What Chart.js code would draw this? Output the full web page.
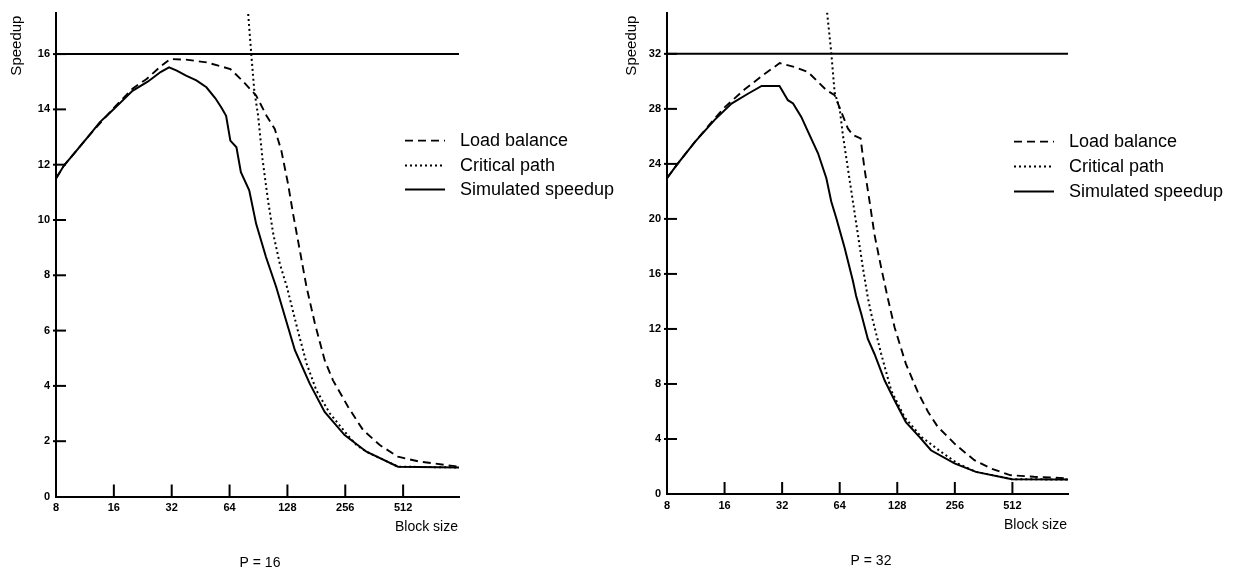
<!DOCTYPE html>
<html lang="en">
<head>
<meta charset="UTF-8">
<title>Speedup vs block size</title>
<script src="https://cdn.jsdelivr.net/npm/chart.js"></script>
<style>
  body { margin: 0; background: #fff; }
  #wrap { position: relative; width: 1234px; height: 575px; }
  .box { position: absolute; top: 0; width: 617px; height: 575px; }
</style>
</head>
<body>
<div id="wrap">
  <div class="box" style="left:0"><canvas id="c16"></canvas></div>
  <div class="box" style="left:617px"><canvas id="c32"></canvas></div>
</div>
<script>
// x axis (block size, log2 scale)
const blockTicks = [8, 16, 32, 64, 128, 256, 512];
const blockMin = 8;
const blockMax = 1000;
const legendNames = ['Load balance', 'Critical path', 'Simulated speedup'];

// P = 16
const p16Ticks = [0, 2, 4, 6, 8, 10, 12, 14, 16];
const p16IdealX = [8, 1000];
const p16Ideal = [16, 16];
const p16LoadX = [8, 8.8, 10, 12, 16, 20, 23.7, 28, 31.4, 38, 48.5, 64.6, 74.6, 88, 99.7, 110, 119, 129, 137, 148.5, 161, 178, 200, 221, 265, 317, 387, 481, 625, 1000];
const p16Load  = [11.5, 11.97, 12.43, 13.09, 14.05, 14.75, 15.1, 15.55, 15.82, 15.8, 15.7, 15.46, 15.04, 14.5, 13.77, 13.29, 12.51, 11.3, 10.22, 8.9, 7.57, 6.25, 4.93, 4.2, 3.24, 2.4, 1.86, 1.44, 1.26, 1.08];
const p16CritX = [80, 83, 86, 90, 95, 101, 108, 117, 127, 145, 161, 181, 213, 259, 293, 330, 481, 1000];
const p16Crit  = [17.45, 16, 14.7, 13.8, 12.2, 10.8, 9.5, 8.4, 7.6, 6.0, 4.81, 3.84, 3.0, 2.28, 1.86, 1.62, 1.08, 1.05];
const p16SimX = [8, 8.8, 10, 12, 13.5, 16, 20, 24, 28, 31, 34, 38, 43, 48.5, 54, 58, 61.4, 64.6, 69.5, 73.3, 81, 88, 99, 112, 128, 140, 167, 200, 254, 330, 481, 1000];
const p16Sim  = [11.5, 11.97, 12.43, 13.09, 13.53, 14.01, 14.67, 15.0, 15.35, 15.52, 15.4, 15.22, 15.05, 14.8, 14.4, 14.07, 13.77, 12.87, 12.63, 11.73, 11.07, 9.86, 8.66, 7.57, 6.2, 5.29, 4.09, 3.06, 2.22, 1.62, 1.08, 1.05];

// P = 32
const p32Ticks = [0, 4, 8, 12, 16, 20, 24, 28, 32];
const p32IdealX = [8, 1000];
const p32Ideal = [32, 32];
const p32LoadX = [8, 9, 11.2, 14.2, 16.1, 20.4, 26, 31.1, 37.2, 43.7, 49.3, 54.5, 60.2, 65.2, 70.6, 75, 82.3, 86.2, 91.7, 97.3, 105.5, 114, 124, 142, 164, 185, 208, 260, 324, 395, 498, 665, 1000];
const p32Load  = [22.96, 23.93, 25.6, 27.3, 28.15, 29.42, 30.56, 31.33, 31.04, 30.68, 29.96, 29.36, 29.0, 27.79, 26.58, 26.1, 25.85, 23.68, 21.27, 18.86, 16.45, 14.28, 12.1, 9.46, 7.4, 6.0, 4.9, 3.55, 2.46, 1.86, 1.37, 1.25, 1.14];
const p32CritX = [55, 57.8, 60.2, 64, 66.5, 70.6, 75, 79.7, 84.6, 89.8, 93.6, 105.5, 119, 139.6, 171, 217, 265, 330, 509, 1000];
const p32Crit  = [35, 32.1, 29.2, 28.0, 26.1, 23.68, 21.27, 18.86, 16.45, 14.28, 13.08, 10.18, 7.53, 5.59, 4.15, 3.06, 2.22, 1.61, 1.08, 1.05];
const p32SimX = [8, 9, 11.2, 14.2, 17.4, 21.2, 25, 31, 34.3, 36.5, 40.3, 43.7, 49.3, 54.5, 57.8, 61.4, 67.9, 75, 78, 83, 89.8, 97.3, 110, 124, 142, 167, 192, 255, 330, 509, 1000];
const p32Sim  = [22.96, 23.93, 25.6, 27.2, 28.39, 29.1, 29.67, 29.67, 28.63, 28.39, 27.42, 26.34, 24.77, 22.96, 21.27, 20.07, 17.9, 15.5, 14.4, 13.08, 11.27, 10.18, 8.25, 6.8, 5.23, 4.15, 3.18, 2.22, 1.61, 1.08, 1.05];

function pts(xs, ys) {
  return xs.map((x, i) => ({ x: x, y: ys[i] }));
}

const lineStyles = [
  { borderDash: [8, 5], borderWidth: 1.9 },
  { borderDash: [2, 3], borderWidth: 2 },
  { borderDash: [], borderWidth: 2 }
];

// tick marks inside the axes, legend and extra labels
const decor = {
  id: 'decor',
  afterDraw(chart, args, o) {
    const ctx = chart.ctx;
    const a = chart.chartArea;
    const xs = chart.scales.x, ys = chart.scales.y;
    ctx.save();
    ctx.strokeStyle = '#000';
    ctx.fillStyle = '#000';
    ctx.lineWidth = 2;
    o.yTicks.forEach(v => {
      if (v === 0) return;
      const py = ys.getPixelForValue(v);
      ctx.beginPath(); ctx.moveTo(a.left - 3, py); ctx.lineTo(a.left + 10, py); ctx.stroke();
    });
    blockTicks.forEach(v => {
      if (v === blockMin) return;
      const px = xs.getPixelForValue(v);
      ctx.beginPath(); ctx.moveTo(px, a.bottom); ctx.lineTo(px, a.bottom - 12); ctx.stroke();
    });

    // legend
    const lx = a.right - 54;
    o.legendY.forEach((dy, i) => {
      const y = a.top + dy;
      const st = lineStyles[i];
      ctx.setLineDash(st.borderDash);
      ctx.lineWidth = st.borderWidth;
      ctx.beginPath(); ctx.moveTo(lx, y); ctx.lineTo(lx + 40, y); ctx.stroke();
      ctx.setLineDash([]);
      ctx.font = '18px "Liberation Sans", Arial, sans-serif';
      ctx.textAlign = 'left';
      ctx.textBaseline = 'middle';
      ctx.fillText(legendNames[i], lx + 55, y);
    });

    // y title at the top of the axis
    ctx.save();
    ctx.translate(a.left - o.titleDx, a.top + 33);
    ctx.rotate(-Math.PI / 2);
    ctx.font = '15px "Liberation Sans", Arial, sans-serif';
    ctx.textAlign = 'center';
    ctx.textBaseline = 'middle';
    ctx.fillText('Speedup', 0, 0);
    ctx.restore();

    ctx.font = '14px "Liberation Sans", Arial, sans-serif';
    ctx.textAlign = 'right';
    ctx.textBaseline = 'middle';
    ctx.fillText('Block size', a.right - 1, a.bottom + 31);
    ctx.textAlign = 'center';
    ctx.fillText(o.caption, a.left + 204, a.bottom + 67);
    ctx.restore();
  }
};

function makeChart(id, p) {
  const datasets = [
    { data: pts(p.idealX, p.ideal), borderDash: [], borderWidth: 2 },
    Object.assign({ data: pts(p.loadX, p.load) }, lineStyles[0]),
    Object.assign({ data: pts(p.critX, p.crit) }, lineStyles[1]),
    Object.assign({ data: pts(p.simX, p.sim) }, lineStyles[2])
  ].map(d => Object.assign(d, { borderColor: '#000', pointRadius: 0, tension: 0, fill: false }));

  return new Chart(document.getElementById(id), {
    type: 'line',
    data: { datasets: datasets },
    plugins: [decor],
    options: {
      responsive: true,
      maintainAspectRatio: false,
      animation: false,
      layout: { padding: { left: 0, right: p.padRight, top: p.padTop, bottom: 0 } },
      plugins: {
        legend: { display: false },
        tooltip: { enabled: false },
        decor: { yTicks: p.ticks, legendY: p.legendY, caption: p.caption, titleDx: p.titleDx }
      },
      scales: {
        x: {
          type: 'logarithmic',
          min: blockMin,
          max: blockMax,
          afterBuildTicks: s => { s.ticks = blockTicks.map(v => ({ value: v })); },
          afterFit: s => { s.height = p.xHeight; },
          grid: { display: true, drawOnChartArea: false, drawTicks: false },
          border: { display: true, width: 2, color: '#000' },
          ticks: {
            autoSkip: false, maxRotation: 0, padding: 5, color: '#000',
            font: { family: '"Liberation Sans", Arial, sans-serif', size: 11, weight: 'bold' },
            callback: v => String(v)
          }
        },
        y: {
          type: 'linear',
          min: 0,
          max: p.yMax,
          afterBuildTicks: s => { s.ticks = p.ticks.map(v => ({ value: v })); },
          afterFit: s => { s.width = p.yWidth; },
          grid: { display: true, drawOnChartArea: false, drawTicks: false },
          border: { display: true, width: 2, color: '#000' },
          ticks: {
            padding: 6, color: '#000',
            font: { family: '"Liberation Sans", Arial, sans-serif', size: 11, weight: 'bold' }
          }
        }
      }
    }
  });
}

makeChart('c16', {
  ticks: p16Ticks, yMax: 17.5,
  idealX: p16IdealX, ideal: p16Ideal,
  loadX: p16LoadX, load: p16Load,
  critX: p16CritX, crit: p16Crit,
  simX: p16SimX, sim: p16Sim,
  padRight: 158, padTop: 12, yWidth: 56, xHeight: 78.5,
  legendY: [128, 153, 177], caption: 'P = 16', titleDx: 39
});

makeChart('c32', {
  ticks: p32Ticks, yMax: 35,
  idealX: p32IdealX, ideal: p32Ideal,
  loadX: p32LoadX, load: p32Load,
  critX: p32CritX, crit: p32Crit,
  simX: p32SimX, sim: p32Sim,
  padRight: 166, padTop: 9, yWidth: 50, xHeight: 81,
  legendY: [129, 154, 179], caption: 'P = 32', titleDx: 35
});
</script>
</body>
</html>
